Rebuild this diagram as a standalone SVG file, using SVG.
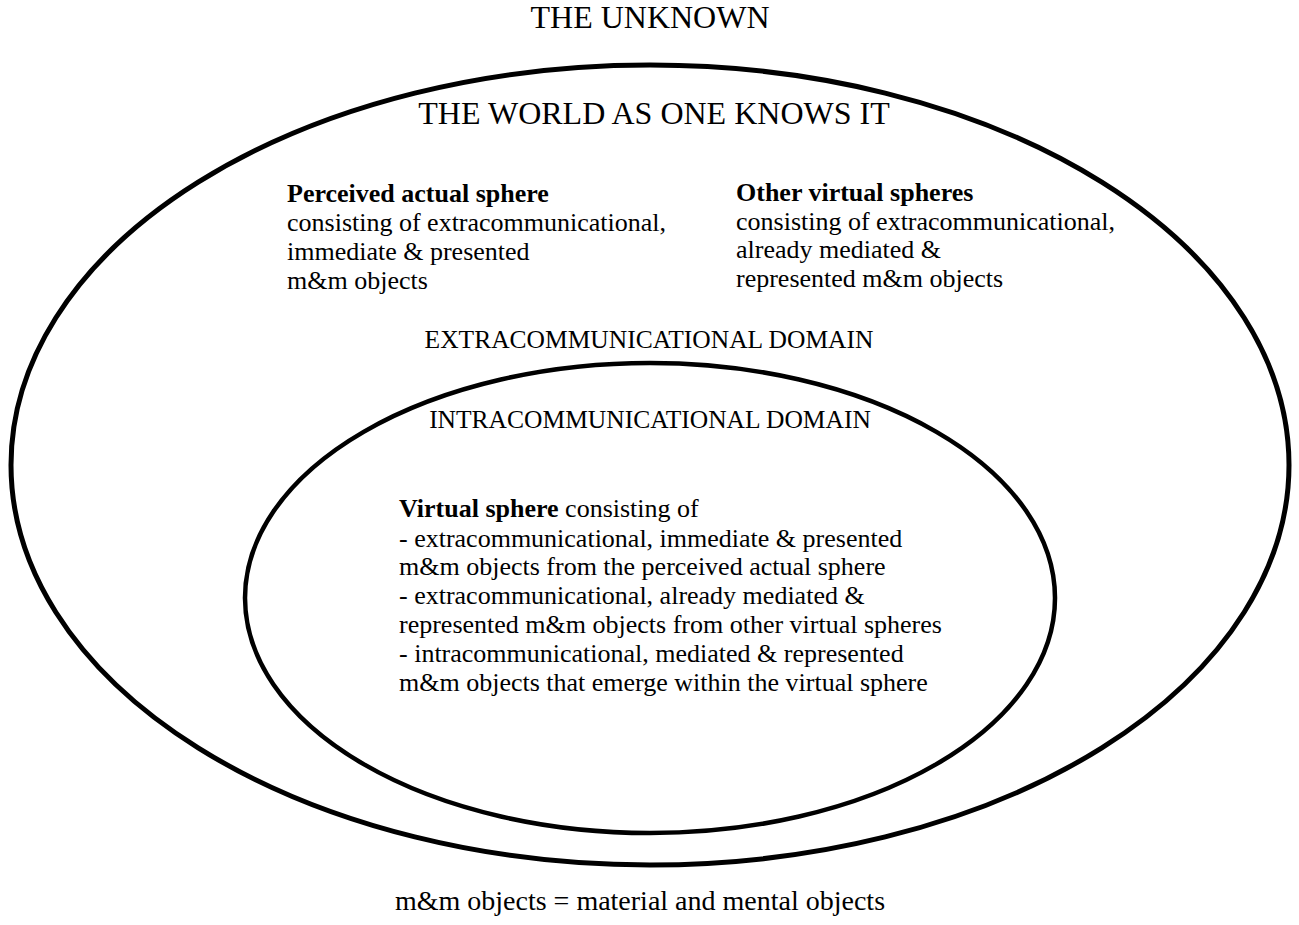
<svg xmlns="http://www.w3.org/2000/svg" width="1299" height="925" viewBox="0 0 1299 925">
<style>
.ring{fill:none;stroke:#000;stroke-width:5}
.t{font-family:"Liberation Serif","Times New Roman",serif;fill:#000}
.title{font-size:32px;text-anchor:middle}
.dom{font-size:25.5px;text-anchor:middle}
.body{font-size:26px}
.b{font-weight:bold}
</style>
<rect width="1299" height="925" fill="#fff"/>
<g id="unknown">
<text class="t title" x="650" y="28">THE UNKNOWN</text>
</g>
<g id="world">
<ellipse class="ring" cx="650" cy="465" rx="639" ry="400"/>
<text class="t title" x="654" y="124">THE WORLD AS ONE KNOWS IT</text>
<text class="t dom" x="649" y="348">EXTRACOMMUNICATIONAL DOMAIN</text>
</g>
<g id="perceived-actual-sphere">
<text class="t body" x="287"><tspan class="b" x="287" y="202">Perceived actual sphere</tspan><tspan x="287" y="231">consisting of extracommunicational,</tspan><tspan x="287" y="260">immediate &amp; presented</tspan><tspan x="287" y="289">m&amp;m objects</tspan></text>
</g>
<g id="other-virtual-spheres">
<text class="t body" x="736"><tspan class="b" x="736" y="201">Other virtual spheres</tspan><tspan x="736" y="230">consisting of extracommunicational,</tspan><tspan x="736" y="258">already mediated &amp;</tspan><tspan x="736" y="287">represented m&amp;m objects</tspan></text>
</g>
<g id="intracommunicational-domain">
<ellipse class="ring" cx="650" cy="598" rx="405" ry="235" style="stroke-width:4.5"/>
<text class="t dom" x="650" y="428">INTRACOMMUNICATIONAL DOMAIN</text>
<text class="t body" x="399"><tspan x="399" y="517"><tspan class="b">Virtual sphere</tspan> consisting of</tspan><tspan x="399" y="547">- extracommunicational, immediate &amp; presented</tspan><tspan x="399" y="575">m&amp;m objects from the perceived actual sphere</tspan><tspan x="399" y="604">- extracommunicational, already mediated &amp;</tspan><tspan x="399" y="633">represented m&amp;m objects from other virtual spheres</tspan><tspan x="399" y="662">- intracommunicational, mediated &amp; represented</tspan><tspan x="399" y="691">m&amp;m objects that emerge within the virtual sphere</tspan></text>
</g>
<g id="legend">
<text class="t" x="640" y="910" style="font-size:28px;text-anchor:middle">m&amp;m objects = material and mental objects</text>
</g>
<g id="connectors"/>
</svg>
